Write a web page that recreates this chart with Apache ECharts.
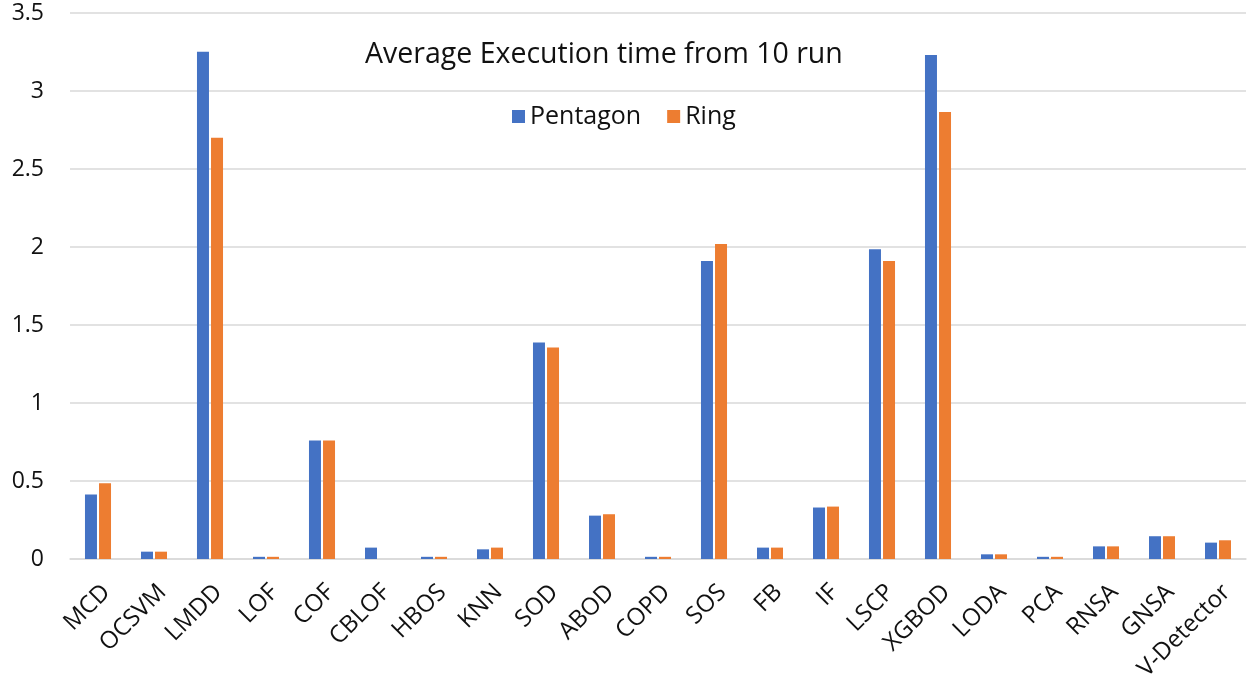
<!DOCTYPE html>
<html>
<head>
<meta charset="utf-8">
<script src="https://cdn.jsdelivr.net/npm/echarts@6/dist/echarts.min.js"></script>
<style>
  html, body { margin: 0; padding: 0; background: #fff; }
  #chart { width: 1248px; height: 678px; }
</style>
</head>
<body>
<div id="chart"></div>
<script>
const categories = ['MCD', 'OCSVM', 'LMDD', 'LOF', 'COF', 'CBLOF', 'HBOS', 'KNN', 'SOD', 'ABOD', 'COPD',
  'SOS', 'FB', 'IF', 'LSCP', 'XGBOD', 'LODA', 'PCA', 'RNSA', 'GNSA', 'V-Detector'];
const pentagon = [0.413, 0.047, 3.252, 0.014, 0.76, 0.073, 0.014, 0.062, 1.388, 0.278, 0.014,
  1.911, 0.073, 0.33, 1.985, 3.23, 0.03, 0.014, 0.081, 0.146, 0.105];
const ring = [0.486, 0.047, 2.70, 0.014, 0.76, 0, 0.014, 0.073, 1.356, 0.287, 0.014,
  2.019, 0.073, 0.336, 1.911, 2.865, 0.03, 0.014, 0.081, 0.146, 0.12];
const yTicks = { min: 0, max: 3.5, interval: 0.5 };

const FONT = '"Open Sans", "Noto Sans", sans-serif';
const chart = echarts.init(document.getElementById('chart'));
chart.setOption({
  animation: false,
  title: {
    text: 'Average Execution time from 10 run',
    left: 360, top: 35,
    textStyle: { fontFamily: FONT, fontSize: 28.5, fontWeight: 'normal', color: '#111' }
  },
  legend: {
    data: ['Pentagon', 'Ring'],
    top: 99, left: 507,
    icon: 'rect', itemWidth: 13, itemHeight: 13, itemGap: 26,
    textStyle: { fontFamily: FONT, fontSize: 25, color: '#111' }
  },
  grid: { left: 70, right: 2, top: 13, bottom: 119, containLabel: false, outerBoundsMode: 'none' },
  xAxis: {
    type: 'category', data: categories,
    axisLine: { lineStyle: { color: '#d9d9d9', width: 1.5 } },
    axisTick: { show: false },
    axisLabel: { rotate: 45, interval: 0, margin: 21, verticalAlign: 'top',
      fontFamily: FONT, fontSize: 24, color: '#111' }
  },
  yAxis: {
    type: 'value', min: yTicks.min, max: yTicks.max, interval: yTicks.interval,
    axisLine: { show: false }, axisTick: { show: false },
    splitLine: { lineStyle: { color: '#d9d9d9', width: 1.5 } },
    axisLabel: { margin: 26, fontFamily: FONT, fontSize: 23, color: '#111' }
  },
  series: [
    { name: 'Pentagon', type: 'bar', data: pentagon, barWidth: 12, barGap: '17%',
      itemStyle: { color: '#4472C4' } },
    { name: 'Ring', type: 'bar', data: ring, barWidth: 12,
      itemStyle: { color: '#ED7D31' } }
  ]
});
</script>
</body>
</html>
